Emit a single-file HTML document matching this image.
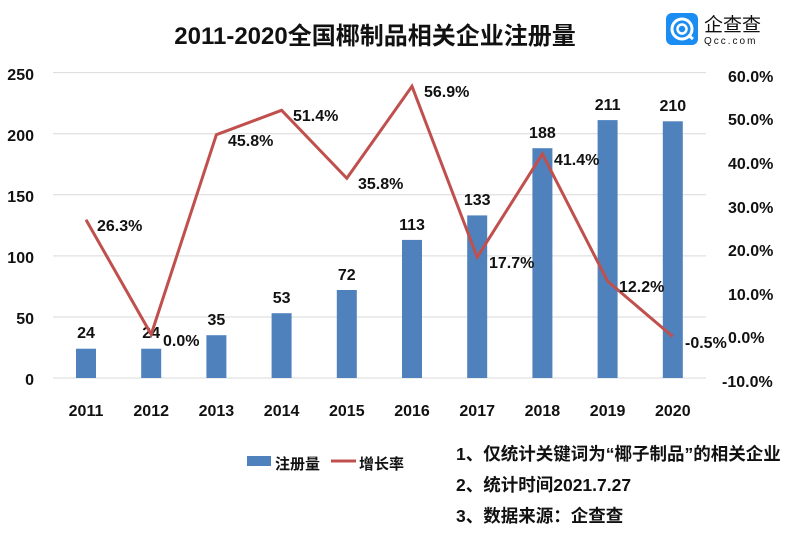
<!DOCTYPE html>
<html><head><meta charset="utf-8"><style>
body{margin:0;background:#fff;}
svg text{font-family:"Liberation Sans","Noto Sans CJK SC",sans-serif;font-weight:bold;fill:#111;}
</style></head><body>
<svg width="790" height="528" viewBox="0 0 790 528" xmlns="http://www.w3.org/2000/svg">
<text x="375" y="44" font-size="24" text-anchor="middle">2011-2020全国椰制品相关企业注册量</text>
<!-- logo -->
<rect x="666" y="13" width="32" height="32" rx="6" fill="#1b8cf2"/>
<circle cx="682" cy="29" r="10" fill="none" stroke="#fff" stroke-width="3"/>
<circle cx="682" cy="29" r="4.5" fill="none" stroke="#fff" stroke-width="2.5"/>
<line x1="688" y1="35" x2="693" y2="39" stroke="#fff" stroke-width="3"/>
<text x="704" y="31" font-size="19" style="font-weight:normal" fill="#333">企查查</text>
<text x="704" y="44" font-size="10" style="font-weight:normal;letter-spacing:2px" fill="#333">Qcc.com</text>
<g stroke="#d9d9d9" stroke-width="1">
<line x1="53" y1="72.6" x2="706" y2="72.6"/><line x1="53" y1="133.7" x2="706" y2="133.7"/>
<line x1="53" y1="194.8" x2="706" y2="194.8"/><line x1="53" y1="255.9" x2="706" y2="255.9"/>
<line x1="53" y1="317" x2="706" y2="317"/><line x1="53" y1="378" x2="706" y2="378"/>
</g>
<g font-size="16" text-anchor="end">
<text x="34" y="80">250</text><text x="34" y="141">200</text><text x="34" y="202">150</text>
<text x="34" y="263">100</text><text x="34" y="324">50</text><text x="34" y="385">0</text>
</g>
<g font-size="16" text-anchor="start">
<text x="728" y="82">60.0%</text><text x="728" y="125">50.0%</text><text x="728" y="169">40.0%</text>
<text x="728" y="213">30.0%</text><text x="728" y="256">20.0%</text><text x="728" y="300">10.0%</text>
<text x="728" y="343">0.0%</text><text x="722" y="387">-10.0%</text>
</g>
<g fill="#4f81bd">
<rect x="76" y="348.7" width="20" height="29.3"/><rect x="141.2" y="348.7" width="20" height="29.3"/>
<rect x="206.4" y="335.2" width="20" height="42.8"/><rect x="271.6" y="313.2" width="20" height="64.8"/>
<rect x="336.8" y="290" width="20" height="88"/><rect x="402" y="239.9" width="20" height="138.1"/>
<rect x="467.2" y="215.4" width="20" height="162.6"/><rect x="532.4" y="148.2" width="20" height="229.8"/>
<rect x="597.6" y="120.1" width="20" height="257.9"/><rect x="662.8" y="121.3" width="20" height="256.7"/>
</g>
<g font-size="16" text-anchor="middle">
<text x="86" y="338">24</text><text x="151.2" y="338">24</text><text x="216.4" y="325">35</text>
<text x="281.6" y="303">53</text><text x="346.8" y="280">72</text><text x="412" y="230">113</text>
<text x="477.2" y="205">133</text><text x="542.4" y="138">188</text><text x="607.6" y="110">211</text><text x="672.8" y="111">210</text>
</g>
<polyline fill="none" stroke="#c0504d" stroke-width="3" points="86,219.7 151.2,334.4 216.4,134.7 281.6,110.3 346.8,178.3 412,86.3 477.2,257.2 542.4,153.9 607.6,281.2 672.8,336.6"/>
<g font-size="16">
<text x="97" y="231">26.3%</text><text x="163" y="346">0.0%</text><text x="228" y="146">45.8%</text>
<text x="293" y="121">51.4%</text><text x="358" y="189">35.8%</text><text x="424" y="97">56.9%</text>
<text x="489" y="268">17.7%</text><text x="554" y="165">41.4%</text><text x="619" y="292">12.2%</text><text x="685" y="348">-0.5%</text>
</g>
<g font-size="16" text-anchor="middle">
<text x="86" y="416">2011</text><text x="151.2" y="416">2012</text><text x="216.4" y="416">2013</text>
<text x="281.6" y="416">2014</text><text x="346.8" y="416">2015</text><text x="412" y="416">2016</text>
<text x="477.2" y="416">2017</text><text x="542.4" y="416">2018</text><text x="607.6" y="416">2019</text><text x="672.8" y="416">2020</text>
</g>
<rect x="247" y="456" width="24" height="10" fill="#4f81bd"/>
<text x="275" y="469" font-size="15">注册量</text>
<line x1="331" y1="461" x2="356" y2="461" stroke="#c0504d" stroke-width="3"/>
<text x="359" y="469" font-size="15">增长率</text>
<g font-size="17.5">
<text x="456" y="460">1、仅统计关键词为“椰子制品”的相关企业</text>
<text x="456" y="491">2、统计时间2021.7.27</text>
<text x="456" y="522">3、数据来源：企查查</text>
</g>
</svg>
</body></html>
